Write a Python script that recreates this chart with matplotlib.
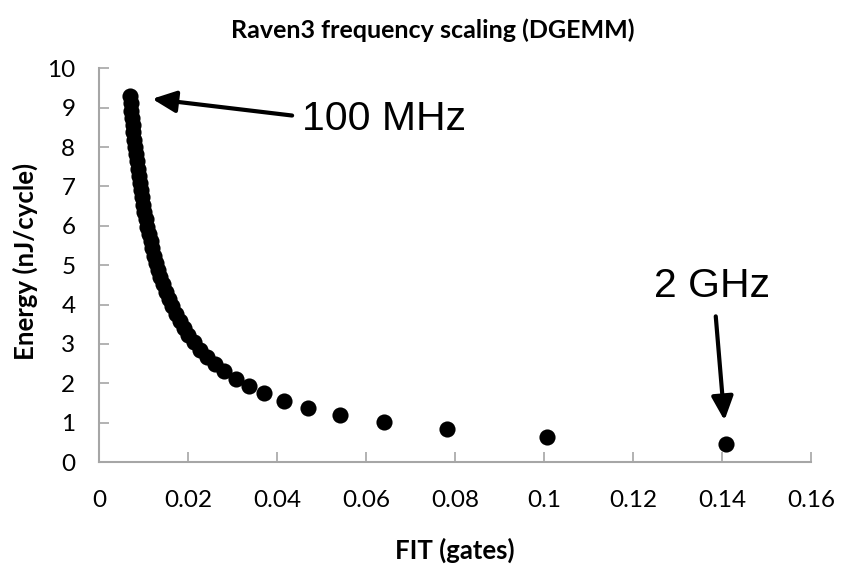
import matplotlib.pyplot as plt

# Raven3 DGEMM sweep, 100 MHz .. 2 GHz operating points
fit_gates = [
    0.0070, 0.0071, 0.0073, 0.0074, 0.0076, 0.0077, 0.0079, 0.0081, 0.0083,
    0.0085, 0.0087, 0.0089, 0.0092, 0.0094, 0.0097, 0.0099, 0.0102, 0.0105,
    0.0108, 0.0112, 0.0116, 0.0119, 0.0124, 0.0128, 0.0133, 0.0138, 0.0144,
    0.0150, 0.0157, 0.0164, 0.0172, 0.0181, 0.0191, 0.0201, 0.0214, 0.0227,
    0.0243, 0.0261, 0.0282, 0.0307, 0.0336, 0.0371, 0.0415, 0.0470, 0.0542,
    0.0641, 0.0783, 0.1007, 0.1410,
]
energy_nj = [
    9.29, 9.11, 8.92, 8.74, 8.56, 8.37, 8.19, 8.00, 7.82,
    7.64, 7.45, 7.27, 7.08, 6.90, 6.72, 6.53, 6.35, 6.16,
    5.98, 5.80, 5.61, 5.43, 5.24, 5.06, 4.88, 4.69, 4.51,
    4.32, 4.14, 3.96, 3.77, 3.59, 3.40, 3.22, 3.04, 2.85,
    2.67, 2.48, 2.30, 2.12, 1.93, 1.75, 1.56, 1.38, 1.20,
    1.01, 0.83, 0.64, 0.46,
]
x_ticks = [0, 0.02, 0.04, 0.06, 0.08, 0.1, 0.12, 0.14, 0.16]
x_tick_labels = ["0", "0.02", "0.04", "0.06", "0.08", "0.1", "0.12", "0.14", "0.16"]
y_ticks = list(range(0, 11))

fig = plt.figure(figsize=(8.41, 5.69), dpi=100)
ax = fig.add_axes([0.1177, 0.188, 0.8466, 0.692])

ax.scatter(fit_gates, energy_nj, s=135, color="black", zorder=3, linewidths=0)

ax.set_xlim(0, 0.16)
ax.set_ylim(0, 10)
ax.set_xticks(x_ticks)
ax.set_xticklabels(x_tick_labels)
ax.set_yticks(y_ticks)

for side in ("top", "right"):
    ax.spines[side].set_visible(False)
for side in ("left", "bottom"):
    ax.spines[side].set_color("#a6a6a6")
    ax.spines[side].set_linewidth(1.5)

ax.tick_params(direction="in", length=7, width=1.2, color="#a6a6a6",
               labelsize=17.5, labelcolor="black")
ax.tick_params(axis="x", pad=20)
ax.tick_params(axis="y", pad=17)
for lbl in ax.get_xticklabels() + ax.get_yticklabels():
    lbl.set_family("Lato")

fig.text(0.514, 0.947, "Raven3 frequency scaling (DGEMM)", ha="center", va="center",
         fontsize=18, fontweight="bold", family="Lato")
fig.text(0.541, 0.032, "FIT (gates)", ha="center", va="center",
         fontsize=18.5, fontweight="bold", family="Lato")
fig.text(0.030, 0.540, "Energy (nJ/cycle)", ha="center", va="center", rotation=90,
         fontsize=18.5, fontweight="bold", family="Lato")

arrow = dict(arrowstyle="-|>,head_length=0.72,head_width=0.33", color="black",
             lw=3, mutation_scale=20, shrinkA=0)

# 100 MHz callout
ax.text(0.0456, 8.7, "100 MHz", fontsize=29.5, family="Liberation Sans",
        ha="left", va="center")
ax.annotate("", xy=(fit_gates[0], energy_nj[0]), xytext=(0.0434, 8.80),
            arrowprops=dict(arrow, shrinkB=16))

# 2 GHz callout
ax.text(0.1378, 4.47, "2 GHz", fontsize=29.5, family="Liberation Sans",
        ha="center", va="center")
ax.annotate("", xy=(fit_gates[-1], energy_nj[-1]), xytext=(0.1386, 3.70),
            arrowprops=dict(arrow, shrinkB=17))

fig.savefig("out.png", dpi=100)
